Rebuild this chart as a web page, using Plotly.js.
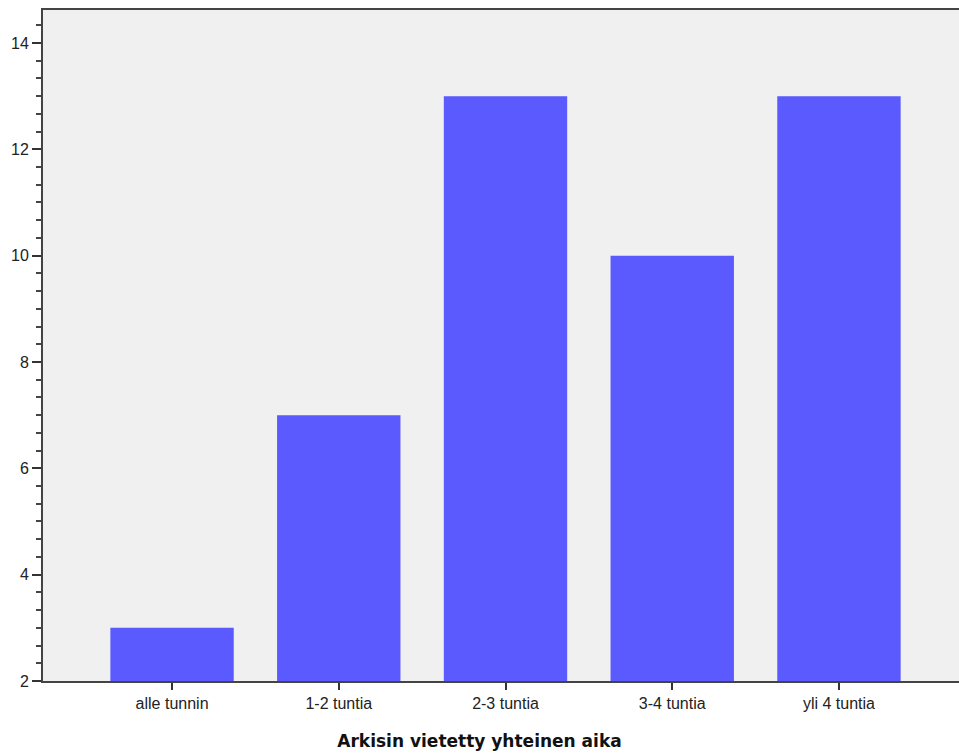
<!DOCTYPE html>
<html><head><meta charset="utf-8">
<script src="https://cdn.plot.ly/plotly-3.0.1.min.js"></script>
<style>body{margin:0;padding:0;background:#fff}#chart{width:959px;height:755px}</style>
</head><body><div id="chart"></div>
<script>
const categories = ["alle tunnin", "1-2 tuntia", "2-3 tuntia", "3-4 tuntia", "yli 4 tuntia"];
const counts = [3, 7, 13, 10, 13];
const yTickVals = [2, 4, 6, 8, 10, 12, 14];
const xTitle = "Arkisin vietetty yhteinen aika";

const trace = {
  type: 'bar',
  x: categories.map((c, i) => i),
  y: counts.map(v => v - 2),
  base: 2,
  marker: {color: '#5a5aff'},
  width: 0.74,
  hoverinfo: 'skip'
};

const layout = {
  width: 959, height: 755,
  margin: {l: 43, r: 0, t: 10, b: 74},
  paper_bgcolor: '#ffffff',
  plot_bgcolor: '#f0f0f0',
  showlegend: false,
  font: {family: 'Liberation Sans, Arial, sans-serif', color: '#222'},
  title: {
    text: '<b>' + xTitle + '</b>',
    xref: 'container', yref: 'container',
    x: 0.5, xanchor: 'center',
    y: 0.018, yanchor: 'middle',
    font: {family: 'DejaVu Sans, sans-serif', size: 17, color: '#111'}
  },
  xaxis: {
    range: [-0.774, 4.72],
    tickmode: 'array',
    tickvals: categories.map((c, i) => i),
    ticktext: categories,
    ticks: 'outside', ticklen: 7, tickwidth: 2, tickcolor: '#333',
    showline: true, linecolor: '#444', linewidth: 2, mirror: true,
    showgrid: false, zeroline: false,
    tickfont: {size: 16, color: '#222'}
  },
  yaxis: {
    range: [2, 14.62],
    tickmode: 'array',
    tickvals: yTickVals,
    ticktext: yTickVals.map(String),
    ticks: 'outside', ticklen: 9, tickwidth: 2, tickcolor: '#333',
    minor: {dtick: 1/3, tick0: 2, ticks: 'outside', ticklen: 5, tickwidth: 2, tickcolor: '#444', showgrid: false},
    showline: true, linecolor: '#444', linewidth: 2,
    showgrid: false, zeroline: false,
    tickfont: {size: 16, color: '#222'}
  }
};

Plotly.newPlot('chart', [trace], layout, {displayModeBar: false, staticPlot: true});
</script></body></html>
